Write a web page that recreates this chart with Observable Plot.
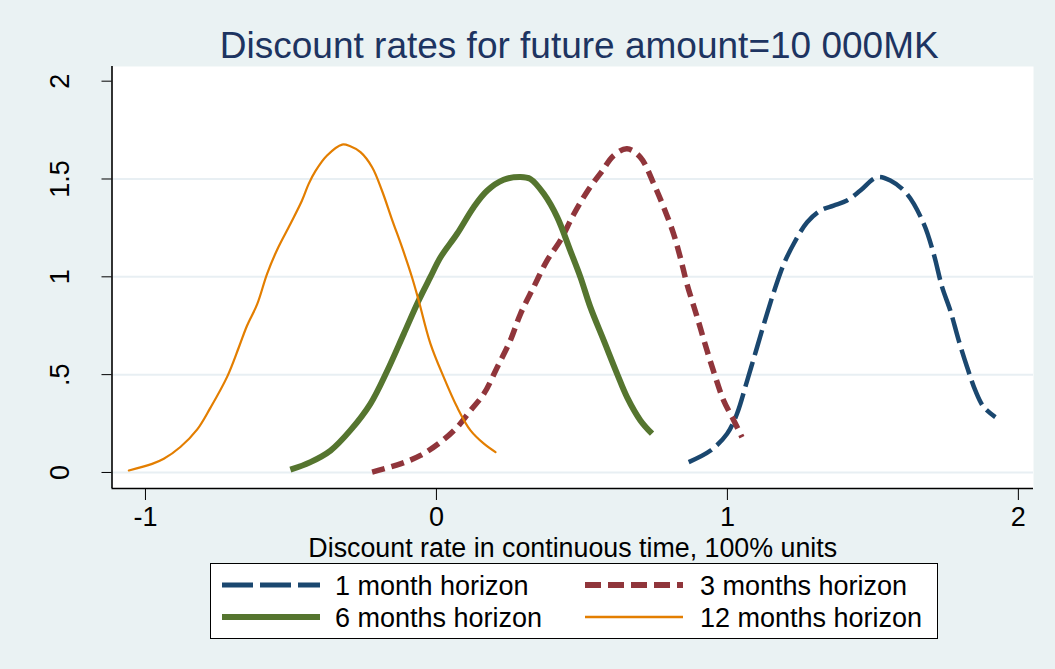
<!DOCTYPE html>
<html><head><meta charset="utf-8">
<script src="https://cdn.jsdelivr.net/npm/d3@7"></script>
<script src="https://cdn.jsdelivr.net/npm/@observablehq/plot@0.6"></script>
<style>
body{margin:0;background:#EAF2F3;font-family:"Liberation Sans",Arial,sans-serif;}
#wrap{position:relative;width:1055px;height:669px;overflow:hidden;background:#EAF2F3;}
#chart{position:absolute;left:0;top:0;}
#legend{position:absolute;left:210px;top:563px;width:728px;height:76px;border:1px solid #000;background:#fff;box-sizing:border-box;}
</style></head><body>
<div id="wrap"><div id="chart"></div><div id="legend"></div></div>
<script>
const titleText = "Discount rates for future amount=10 000MK";
const xLabel = "Discount rate in continuous time, 100% units";
const xTicks = [-1, 0, 1, 2];
const yTicks = [0, 0.5, 1, 1.5, 2];
const gridY = [0, 0.5, 1, 1.5];
const xDomain = [-1.115, 2.052];
const yDomain = [-0.082, 2.075];

const seriesNames = ["1 month horizon", "3 months horizon", "6 months horizon", "12 months horizon"];
const seriesColors = ["#1A476F", "#90353B", "#55752F", "#E37E00"];

const x1m = [0.867,0.942,0.999,1.033,1.068,1.102,1.136,1.165,1.194,1.228,1.274,1.320,1.365,1.411,1.457,1.514,1.560,1.617,1.675,1.709,1.738,1.766,1.795,1.824,1.852,1.881,1.921];
const y1m = [0.053,0.112,0.198,0.30,0.47,0.64,0.811,0.947,1.066,1.169,1.279,1.339,1.364,1.39,1.441,1.509,1.492,1.424,1.271,1.117,0.947,0.828,0.675,0.538,0.419,0.334,0.283];

const x3m = [-0.221,-0.124,-0.055,0.014,0.071,0.117,0.163,0.209,0.254,0.289,0.334,0.380,0.426,0.472,0.520,0.569,0.609,0.655,0.701,0.747,0.781,0.815,0.838,0.861,0.896,0.930,0.959,0.987,1.022,1.050];
const y3m = [0.002,0.044,0.087,0.155,0.231,0.317,0.402,0.538,0.675,0.811,0.947,1.083,1.186,1.32,1.44,1.54,1.62,1.654,1.611,1.475,1.356,1.22,1.10,0.964,0.794,0.623,0.487,0.368,0.266,0.18];

const x6m = [-0.502,-0.433,-0.364,-0.296,-0.227,-0.169,-0.112,-0.061,-0.021,0.014,0.071,0.128,0.174,0.231,0.289,0.323,0.369,0.415,0.460,0.495,0.529,0.575,0.621,0.655,0.701,0.741];
const y6m = [0.014,0.053,0.112,0.215,0.351,0.52,0.709,0.879,0.998,1.10,1.22,1.356,1.44,1.496,1.51,1.50,1.424,1.305,1.134,0.998,0.845,0.675,0.504,0.385,0.266,0.198];

const x12m = [-1.057,-0.977,-0.937,-0.880,-0.822,-0.777,-0.719,-0.679,-0.651,-0.616,-0.582,-0.547,-0.502,-0.462,-0.439,-0.416,-0.376,-0.324,-0.296,-0.261,-0.221,-0.187,-0.152,-0.118,-0.084,-0.061,-0.021,0.025,0.071,0.117,0.163,0.203];
const y12m = [0.01,0.044,0.07,0.13,0.22,0.33,0.49,0.64,0.75,0.86,1.015,1.14,1.27,1.39,1.475,1.54,1.62,1.676,1.667,1.637,1.56,1.44,1.29,1.15,0.998,0.879,0.66,0.487,0.334,0.215,0.147,0.104];

const styles = [
  {stroke: seriesColors[0], strokeWidth: 4.5, strokeDasharray: "26,7", strokeLinecap: "butt"},
  {stroke: seriesColors[1], strokeWidth: 5.5, strokeDasharray: "13,7", strokeLinecap: "butt"},
  {stroke: seriesColors[2], strokeWidth: 6, strokeLinecap: "butt"},
  {stroke: seriesColors[3], strokeWidth: 2.2}
];

const toRows = (xs, ys) => xs.map((x, i) => ({x, y: ys[i]}));
const allRows = [toRows(x1m, y1m), toRows(x3m, y3m), toRows(x6m, y6m), toRows(x12m, y12m)];
const font = '"Liberation Sans", Arial, sans-serif';
const fmtY = d => d === 0 ? "0" : String(d).replace(/^0\./, ".");

const plot = Plot.plot({
  width: 1055, height: 560,
  marginLeft: 111.5, marginRight: 22, marginTop: 66, marginBottom: 72,
  style: {background: "#EAF2F3", fontFamily: font, overflow: "visible"},
  x: {domain: xDomain},
  y: {domain: yDomain},
  marks: [
    Plot.frame({fill: "white", stroke: null}),
    Plot.ruleY(gridY, {stroke: "#E8EFF3", strokeWidth: 2}),
    ...allRows.map((rows, i) => Plot.line(rows, {x: "x", y: "y", curve: "catmull-rom", strokeLinejoin: "round", ...styles[i]})),
    Plot.ruleX([xDomain[0]], {stroke: "#000", strokeWidth: 1.6}),
    Plot.ruleY([yDomain[0]], {stroke: "#000", strokeWidth: 1.6}),
    Plot.axisX({ticks: xTicks, tickSize: 12, tickPadding: 6, fontSize: 27, tickFormat: d => String(d), label: null, stroke: "#000", fill: "#000"}),
    Plot.axisY({ticks: yTicks, tickSize: 10, tickFormat: () => "", label: null, stroke: "#000"}),
    Plot.text(yTicks, {y: d => d, text: fmtY, frameAnchor: "left", dx: -43.5, rotate: -90, textAnchor: "middle", lineAnchor: "bottom", fontSize: 27, fill: "#000"}),
    Plot.text([xLabel], {text: d => d, frameAnchor: "bottom", dy: 68, lineAnchor: "bottom", fontSize: 26.8, fill: "#000"}),
    Plot.text([titleText], {text: d => d, frameAnchor: "top", dy: -9, dx: 6.5, lineAnchor: "bottom", fontSize: 37, fill: "#1D3461"})
  ]
});
document.getElementById("chart").appendChild(plot);

// legend
const lg = d3.select("#legend").append("svg").attr("width", 726).attr("height", 74)
  .style("position", "absolute").style("left", 0).style("top", 0).style("font-family", font);
const cols = [{x0: 11, x1: 109, tx: 124}, {x0: 374, x1: 472, tx: 489}];
const rowsY = [21, 53];
seriesNames.forEach((name, i) => {
  const c = cols[i % 2], yy = rowsY[Math.floor(i / 2)];
  const s = styles[i];
  lg.append("line").attr("x1", c.x0).attr("x2", c.x1).attr("y1", yy).attr("y2", yy)
    .attr("stroke", s.stroke).attr("stroke-width", i === 3 ? 2.6 : (i === 0 ? 5 : 6))
    .attr("stroke-dasharray", i === 0 ? "31,7" : (i === 1 ? "16,7" : null));
  lg.append("text").attr("x", c.tx).attr("y", yy + 9.6).attr("font-size", 27).attr("fill", "#000").text(name);
});
</script>
</body></html>
